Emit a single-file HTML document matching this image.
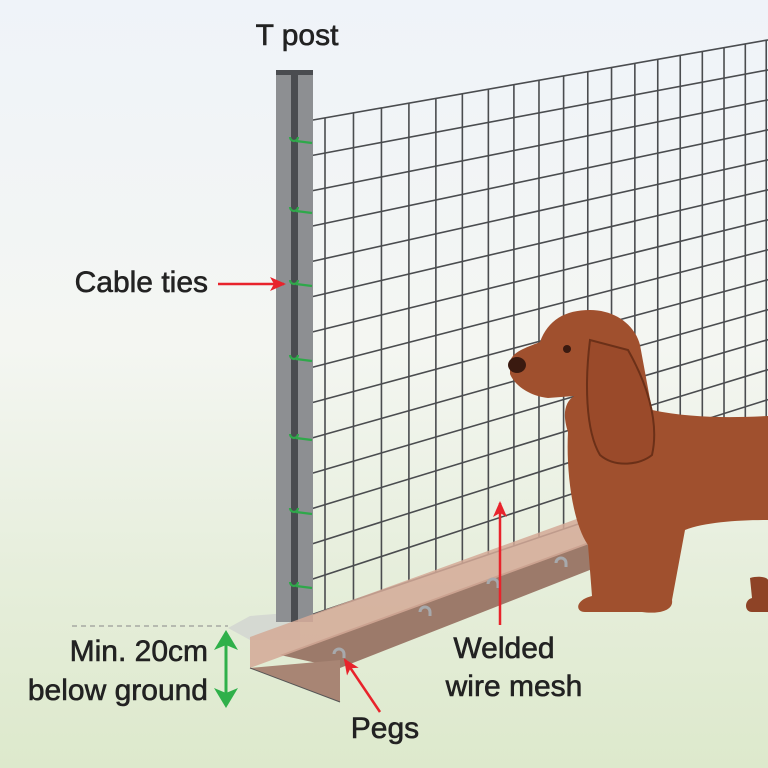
<!DOCTYPE html>
<html><head><meta charset="utf-8"><style>
html,body{margin:0;padding:0}
body{width:768px;height:768px;overflow:hidden;background:linear-gradient(#eff3f9 0%,#f4f6f2 45%,#e6eedb 75%,#dde9cc 100%);font-family:"Liberation Sans",sans-serif}
svg{position:absolute;left:0;top:0}
</style></head><body>
<svg id="s" width="768" height="768" viewBox="0 0 768 768">
<defs>
<marker id="ar" markerWidth="16" markerHeight="14" refX="14" refY="7" orient="auto" markerUnits="userSpaceOnUse"><path d="M0,0 L16,7 L0,14 L4,7 z" fill="#e8232b"/></marker>
</defs>
<polygon points="228,628 250,616 300,612 300,640 250,640" fill="#d5d9d2"/>
<line x1="72" y1="626" x2="228" y2="626" stroke="#888" stroke-width="1" stroke-dasharray="5,4"/>
<g id="mesh" stroke="#4a4c4f" stroke-width="1.6" fill="none"></g>
<rect x="276" y="70" width="37" height="552" fill="#8d8f92"/>
<rect x="291" y="74" width="7" height="548" fill="#4a4c50"/>
<rect x="276" y="70" width="37" height="5" fill="#4a4c50"/>
<g id="ties" stroke="#2fa84a" stroke-width="2.2" fill="none"></g>
<polygon points="280,655 600,538 600,566 340,668" fill="#9c7a6a"/>
<polygon points="250,637 596,512 600,540 250,668" fill="#d4a997" opacity="0.85"/>
<polygon points="250,668 340,660 340,702" fill="#a88574"/>
<line x1="250" y1="668" x2="340" y2="702" stroke="#555" stroke-width="1"/>
<g fill="none" stroke="#a7a9ac" stroke-width="3">
<path d="M334,654 a5,5 0 0 1 10,0 v4"/><path d="M420,612 a5,5 0 0 1 10,0 v4"/><path d="M488,584 a5,5 0 0 1 10,0 v4"/><path d="M556,563 a5,5 0 0 1 10,0 v4"/>
</g>
<g fill="#a0502e">
<path d="M750,578 C760,575 768,578 768,580 L768,612 L752,612 C744,612 744,600 752,598 Z" fill="#8e4326"/>
<path d="M510,362 C512,352 525,348 540,342 C548,320 565,310 590,310 C615,310 635,325 640,345 L652,410 C690,418 730,418 768,416 L768,520 C740,520 705,522 685,530 L672,600 C674,612 655,614 642,612 L585,612 C575,612 575,600 592,596 L588,545 C572,522 566,470 568,432 C562,414 565,402 574,396 L548,398 C530,396 515,386 510,374 Z"/>
<path d="M590,340 C585,380 585,430 600,455 C615,468 640,465 652,455 C660,420 645,380 628,350 Z" fill="#9a4a2a" stroke="#6b3018" stroke-width="2"/>
</g>
<circle cx="567" cy="349" r="4" fill="#3a1a10"/>
<ellipse cx="517" cy="365" rx="9" ry="8" fill="#3a1a10"/>
<line x1="218" y1="284" x2="284" y2="284" stroke="#e8232b" stroke-width="2.5" marker-end="url(#ar)"/>
<line x1="500" y1="625" x2="500" y2="503" stroke="#e8232b" stroke-width="2.5" marker-end="url(#ar)"/>
<line x1="380" y1="712" x2="345" y2="660" stroke="#e8232b" stroke-width="2.5" marker-end="url(#ar)"/>
<g fill="#2fb04a"><line x1="226" y1="640" x2="226" y2="696" stroke="#2fb04a" stroke-width="3"/><path d="M214,650 L226,630 L238,650 L226,645 z"/><path d="M214,688 L226,708 L238,688 L226,693 z"/></g>
<g fill="#222" font-size="30" stroke="#222" stroke-width="0.6">
<text x="297" y="45" text-anchor="middle">T post</text>
<text x="208" y="292" text-anchor="end">Cable ties</text>
<text x="208" y="661" text-anchor="end">Min. 20cm</text>
<text x="208" y="700" text-anchor="end">below ground</text>
<text x="504" y="658" text-anchor="middle">Welded</text>
<text x="514" y="696" text-anchor="middle">wire mesh</text>
<text x="385" y="738" text-anchor="middle">Pegs</text>
</g>
</svg>
<script>
var ns="http://www.w3.org/2000/svg",m=document.getElementById("mesh");
function top_(x){return 123-0.176*(x-296)}function bot(x){return 620-0.34*(x-296)}
function L(a,b,c,d){var l=document.createElementNS(ns,"line");l.setAttribute("x1",a);l.setAttribute("y1",b);l.setAttribute("x2",c);l.setAttribute("y2",d);m.appendChild(l)}
var x=296,s=29;while(x<=770){L(x,top_(x),x,bot(x));x+=s;s*=0.982;}
for(var i=0;i<=14;i++){var t=i/14;L(296,123+t*497,768,top_(768)+t*(bot(768)-top_(768)));}
var g=document.getElementById("ties");
[140,210,283,358,437,511,585].forEach(function(y){var p=document.createElementNS(ns,"path");p.setAttribute("d","M290,"+(y-3)+" a4,4 0 1 0 8,0 M296,"+(y+1)+" L312,"+(y+3));g.appendChild(p);});
</script>
</body></html>
